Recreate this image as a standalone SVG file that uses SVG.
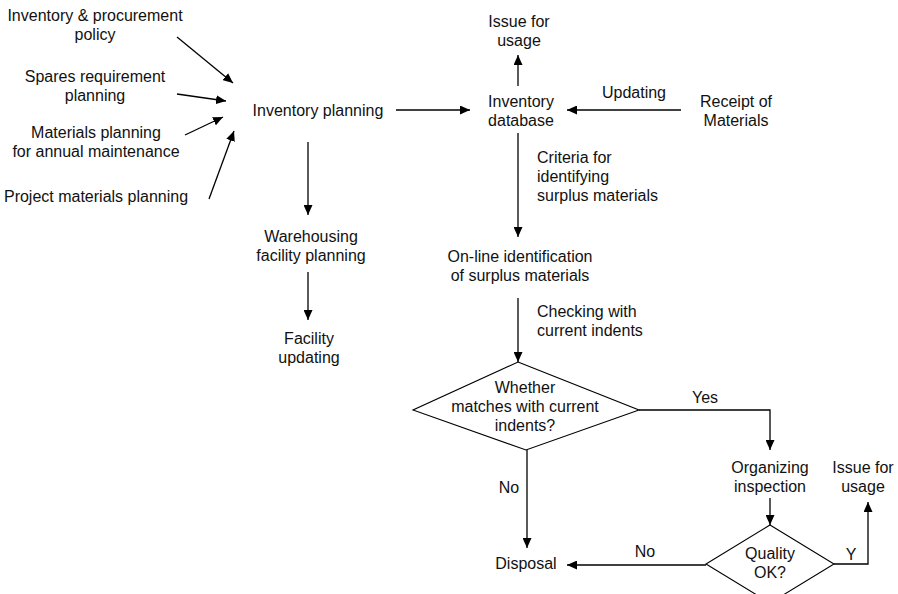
<svg xmlns="http://www.w3.org/2000/svg" width="898" height="594" viewBox="0 0 898 594">
  <defs>
    <marker id="arrow" markerUnits="userSpaceOnUse" markerWidth="11" markerHeight="9" refX="10" refY="4.5" orient="auto">
      <path d="M0,0 L10,4.5 L0,9 z" fill="#000"/>
    </marker>
    <style>
      text { font-family: "Liberation Sans", Arial, sans-serif; font-size: 16px; fill: #111; }
      .c { text-anchor: middle; }
      .l { text-anchor: start; }
      .shape { fill: #fff; stroke: #000; stroke-width: 1.1; }
      .conn line, .conn polyline { stroke: #000; stroke-width: 1.3; fill: none; }
      .arr { marker-end: url(#arrow); }
    </style>
  </defs>
  <rect width="898" height="594" fill="#fff"/>

  <!-- connectors -->
  <g id="connectors" class="conn">
    <line class="arr" x1="177" y1="37" x2="233" y2="83"/>
    <line class="arr" x1="177" y1="94" x2="226" y2="101"/>
    <line class="arr" x1="185" y1="135" x2="223" y2="117"/>
    <line class="arr" x1="209" y1="199" x2="234" y2="131"/>
    <line class="arr" x1="396" y1="110" x2="470" y2="110"/>
    <line class="arr" x1="308" y1="142" x2="308" y2="215"/>
    <line class="arr" x1="308" y1="272" x2="308" y2="320"/>
    <line class="arr" x1="518" y1="86" x2="518" y2="55"/>
    <line class="arr" x1="681" y1="110" x2="567" y2="110"/>
    <line class="arr" x1="518" y1="133" x2="518" y2="237"/>
    <line class="arr" x1="518" y1="298" x2="518" y2="362"/>
    <polyline class="arr" points="639,410 770,410 770,450"/>
    <line class="arr" x1="770" y1="498" x2="770" y2="525"/>
    <polyline class="arr" points="834,564 868,564 868,502"/>
    <line class="arr" x1="527" y1="450" x2="527" y2="548"/>
    <line class="arr" x1="706" y1="565" x2="567" y2="565"/>
  </g>

  <!-- connector labels -->
  <g id="labels">
    <text class="c" x="634" y="98">Updating</text>
    <text class="l" x="537" y="163">Criteria for</text>
    <text class="l" x="537" y="182">identifying</text>
    <text class="l" x="537" y="201">surplus materials</text>
    <text class="l" x="537" y="317">Checking with</text>
    <text class="l" x="537" y="336">current indents</text>
    <text class="c" x="705" y="403">Yes</text>
    <text class="c" x="509" y="493">No</text>
    <text class="c" x="645" y="557">No</text>
    <text class="c" x="851" y="560">Y</text>
  </g>

  <!-- nodes -->
  <g id="n-policy">
    <text class="c" x="95" y="21">Inventory &amp; procurement</text>
    <text class="c" x="95" y="40">policy</text>
  </g>
  <g id="n-spares">
    <text class="c" x="95" y="82">Spares requirement</text>
    <text class="c" x="95" y="101">planning</text>
  </g>
  <g id="n-annual">
    <text class="c" x="96" y="138">Materials planning</text>
    <text class="c" x="96" y="157">for annual maintenance</text>
  </g>
  <g id="n-project">
    <text class="c" x="96" y="202">Project materials planning</text>
  </g>
  <g id="n-inventory-planning">
    <text class="c" x="318" y="116">Inventory planning</text>
  </g>
  <g id="n-inventory-database">
    <text class="c" x="521" y="107">Inventory</text>
    <text class="c" x="521" y="126">database</text>
  </g>
  <g id="n-issue-top">
    <text class="c" x="519" y="27">Issue for</text>
    <text class="c" x="519" y="46">usage</text>
  </g>
  <g id="n-receipt">
    <text class="c" x="736" y="107">Receipt of</text>
    <text class="c" x="736" y="126">Materials</text>
  </g>
  <g id="n-warehousing">
    <text class="c" x="311" y="242">Warehousing</text>
    <text class="c" x="311" y="261">facility planning</text>
  </g>
  <g id="n-facility">
    <text class="c" x="309" y="344">Facility</text>
    <text class="c" x="309" y="363">updating</text>
  </g>
  <g id="n-online">
    <text class="c" x="520" y="262">On-line identification</text>
    <text class="c" x="520" y="281">of surplus materials</text>
  </g>
  <g id="n-match">
    <polygon class="shape" points="518,362 639,410 526,450 413,410"/>
    <text class="c" x="525" y="393">Whether</text>
    <text class="c" x="525" y="412">matches with current</text>
    <text class="c" x="525" y="431">indents?</text>
  </g>
  <g id="n-organizing">
    <text class="c" x="770" y="473">Organizing</text>
    <text class="c" x="770" y="492">inspection</text>
  </g>
  <g id="n-issue-bottom">
    <text class="c" x="863" y="473">Issue for</text>
    <text class="c" x="863" y="492">usage</text>
  </g>
  <g id="n-quality">
    <polygon class="shape" points="770,525 834,564 770,603 706,564"/>
    <text class="c" x="770" y="559">Quality</text>
    <text class="c" x="770" y="578">OK?</text>
  </g>
  <g id="n-disposal">
    <text class="c" x="526" y="569">Disposal</text>
  </g>
</svg>
